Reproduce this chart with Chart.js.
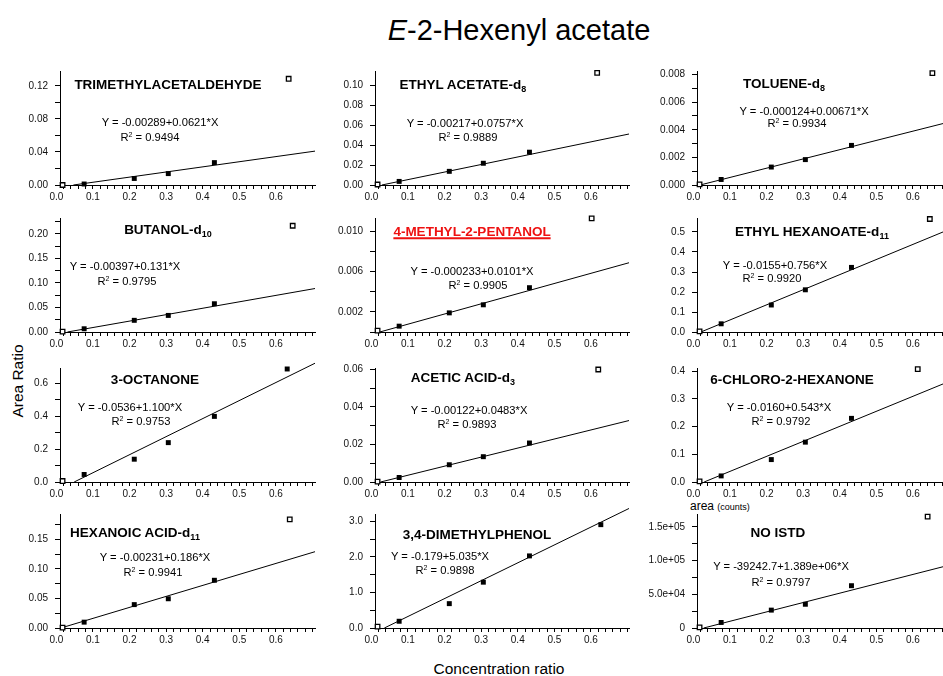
<!DOCTYPE html>
<html>
<head>
<meta charset="utf-8">
<title>E-2-Hexenyl acetate calibration</title>
<script src="https://cdn.jsdelivr.net/npm/chart.js@4.4.1/dist/chart.umd.min.js"></script>
<style>
  body { margin: 0; width: 943px; height: 676px; overflow: hidden; background: #fff; position: relative;
         font-family: 'Liberation Sans', Arial, sans-serif; color: #000; }
  canvas { position: absolute; }
  .lbl { position: absolute; transform: translate(-50%, -50%); white-space: nowrap; line-height: 1; }
  .name { font-weight: bold; font-size: 13.5px; }
  .name sub { font-size: 9px; vertical-align: -3px; }
  .name.ref { color: #ee1111; text-decoration: underline; text-decoration-thickness: 1.5px; }
  .eq { font-size: 11.2px; }
  .eq sup { font-size: 7px; vertical-align: 4px; }
  #title { font-size: 29px; left: 519px; top: 30px; }
  #ylab { font-size: 15.5px; left: 18px; top: 381px; transform: translate(-50%, -50%) rotate(-90deg); }
  #xlab { font-size: 15.5px; left: 499px; top: 669px; }
  #area { position: absolute; left: 690px; top: 499px; font-size: 12px; line-height: 14px; }
  #area small { font-size: 9px; }
</style>
</head>
<body>
<div class="lbl" id="title"><i>E</i>-2-Hexenyl acetate</div>
<div class="lbl" id="ylab">Area Ratio</div>
<div class="lbl" id="xlab">Concentration ratio</div>
<div id="area">area <small>(counts)</small></div>

<script>
/* ----- data ----- */
const compounds = ['TRIMETHYLACETALDEHYDE', 'ETHYL ACETATE-d', 'TOLUENE-d', 'BUTANOL-d',
  '4-METHYL-2-PENTANOL', 'ETHYL HEXANOATE-d', '3-OCTANONE', 'ACETIC ACID-d',
  '6-CHLORO-2-HEXANONE', 'HEXANOIC ACID-d', '3,4-DIMETHYLPHENOL', 'NO ISTD'];
const deuterium = ['', '8', '8', '10', '', '11', '', '3', '', '11', '', ''];

// standard levels shared by every compound, plus the top level as plotted per panel
const concLevels = [0.017, 0.076, 0.213, 0.306, 0.432];
const topLevel = [0.635, 0.617, 0.653, 0.646, 0.602, 0.646, 0.631, 0.620, 0.613, 0.638, 0.627, 0.640];

// area ratios, one row per compound (NO ISTD is in tens of counts)
const areaRatio = [
  [0.0000, 0.0012, 0.0079, 0.0138, 0.0271, 0.1286],
  [0.0005, 0.0036, 0.0137, 0.0218, 0.0329, 0.1124],
  [0.00005, 0.0004, 0.0013, 0.00184, 0.00287, 0.0081],
  [0.0007, 0.0066, 0.0238, 0.0338, 0.0576, 0.2166],
  [0.00013, 0.00058, 0.0019, 0.0027, 0.0044, 0.01129],
  [0.003, 0.041, 0.135, 0.211, 0.323, 0.565],
  [0.006, 0.046, 0.139, 0.240, 0.400, 0.689],
  [0.0002, 0.0024, 0.0092, 0.0135, 0.0208, 0.0600],
  [0.002, 0.022, 0.081, 0.144, 0.230, 0.408],
  [0.0005, 0.0099, 0.0396, 0.0495, 0.0808, 0.184],
  [0.037, 0.19, 0.686, 1.29, 2.03, 2.91],
  [1000, 8200, 26500, 35200, 62700, 165000]
];
// top level kept in the fit for these two only
const topIncluded = [false, false, false, false, false, false, true, false, false, false, true, false];

const intercepts = ['-0.00289', '-0.00217', '-0.000124', '-0.00397', '-0.000233', '-0.0155',
  '-0.0536', '-0.00122', '-0.0160', '-0.00231', '-0.179', '-39242.7'];
const slopes = ['0.0621', '0.0757', '0.00671', '0.131', '0.0101', '0.756',
  '1.100', '0.0483', '0.543', '0.186', '5.035', '1.389e+06'];
const rSquared = ['0.9494', '0.9889', '0.9934', '0.9795', '0.9905', '0.9920',
  '0.9753', '0.9893', '0.9792', '0.9941', '0.9898', '0.9797'];
// NO ISTD area axis is plotted in tens of counts
const fitUnit = [1, 1, 1, 1, 1, 1, 1, 1, 1, 1, 1, 10];

// y axes: top of range, tick step, labelled ticks, decimals
const yMax = [0.138, 0.1143, 0.00826, 0.2324, 0.01132, 0.570, 0.695, 0.0608, 0.412, 0.193, 3.21, 169000];
const yStep = [0.02, 0.02, 0.001, 0.025, 0.002, 0.1, 0.1, 0.01, 0.1, 0.025, 0.5, 25000];
const yLabelled = [
  [0, 0.04, 0.08, 0.12],
  [0, 0.02, 0.04, 0.06, 0.08, 0.10],
  [0, 0.002, 0.004, 0.006, 0.008],
  [0, 0.05, 0.10, 0.15, 0.20],
  [0.002, 0.006, 0.010],
  [0, 0.1, 0.2, 0.3, 0.4, 0.5],
  [0, 0.2, 0.4, 0.6],
  [0, 0.02, 0.04, 0.06],
  [0, 0.1, 0.2, 0.3, 0.4],
  [0, 0.05, 0.10, 0.15],
  [0, 1, 2, 3],
  [0, 50000, 100000, 150000]
];
const yDecimals = [2, 2, 3, 2, 3, 1, 1, 2, 1, 2, 1, 'e'];
const xLabelled = [0, 0.1, 0.2, 0.3, 0.4, 0.5, 0.6];

/* ----- layout ----- */
const rowTop = [68, 215, 365, 511];
const plotH = 117;
const colAxis = [60, 375, 697];
const plotW = [255, 254, 246];
const xMin = 0.01;
const xMax = [0.707, 0.704, 0.682];

const titlePos = [[168, 85], [463, 86], [784, 85], [168, 231], [472, 232], [812, 233],
  [155, 380], [463, 379], [792, 380], [135, 534], [477, 535], [778, 533]];
const eqPos = [[160, 123], [465, 124], [804, 112], [125, 267], [472, 272], [775, 266],
  [130, 408], [469, 411], [779, 408], [155, 558], [440, 557], [781, 567]];
const r2Pos = [[150, 137], [468, 137], [797, 123], [127, 281], [478, 285], [772, 278],
  [141, 421], [467, 424], [781, 421], [153, 572], [445, 570], [781, 582]];

const tickFont = { family: 'Liberation Sans', size: 10 };
const padL = 52, padT = 10, padR = 8, padB = 24;

function fmtY(v, d) {
  if (d !== 'e') return v.toFixed(d);
  if (v === 0) return '0';
  const [mant, ex] = v.toExponential(1).split('e');
  const n = Number(ex);
  return mant + 'e' + (n < 0 ? '-' : '+') + String(Math.abs(n)).padStart(2, '0');
}

function addLabel(cls, pos, html) {
  const d = document.createElement('div');
  d.className = 'lbl ' + cls;
  d.style.left = pos[0] + 'px';
  d.style.top = pos[1] + 'px';
  d.innerHTML = html;
  document.body.appendChild(d);
}

function makePanel(i) {
  const col = i % 3, row = Math.floor(i / 3);
  const w = padL + plotW[col] + padR, h = padT + plotH + padB;

  const canvas = document.createElement('canvas');
  canvas.width = w; canvas.height = h;
  canvas.style.width = w + 'px'; canvas.style.height = h + 'px';
  canvas.style.left = (colAxis[col] - padL) + 'px';
  canvas.style.top = (rowTop[row] - padT) + 'px';
  document.body.appendChild(canvas);

  const xs = concLevels.concat([topLevel[i]]);
  const filled = [], open = [];
  xs.forEach((x, k) => {
    const pt = { x: x, y: areaRatio[i][k] };
    const excluded = k === 0 || (k === xs.length - 1 && !topIncluded[i]);
    (excluded ? open : filled).push(pt);
  });

  // regression line from the printed equation, starting where it crosses zero
  const b = Number(intercepts[i]) / fitUnit[i];
  const m = Number(slopes[i]) / fitUnit[i];
  const xEnd = xMax[col];
  const fit = [{ x: -b / m, y: 0 }, { x: xEnd, y: b + m * xEnd }];

  new Chart(canvas, {
    type: 'scatter',
    data: {
      datasets: [
        { data: fit, showLine: true, borderColor: '#000', borderWidth: 1, pointRadius: 0, clip: false, order: 3 },
        { data: filled, pointStyle: 'rect', pointRadius: 3.5, backgroundColor: '#000', borderWidth: 0, clip: false, order: 2 },
        { data: open, pointStyle: 'rect', pointRadius: 3.2, backgroundColor: '#fff', borderColor: '#000', borderWidth: 1.3, clip: false, order: 1 }
      ]
    },
    options: {
      responsive: false,
      animation: false,
      events: [],
      layout: { padding: { top: padT, right: padR, left: 0, bottom: 0 } },
      plugins: { legend: { display: false }, tooltip: { enabled: false } },
      scales: {
        x: {
          type: 'linear',
          min: xMin,
          max: xEnd,
          // minor ticks every 0.02, the 0.0 label sits just left of the axis
          afterBuildTicks: s => {
            const t = [];
            for (let k = 0; k * 0.02 <= xEnd + 1e-9; k++) t.push({ value: Math.round(k * 2) / 100 });
            s.ticks = t;
          },
          afterFit: s => { s.height = padB; },
          grid: {
            drawOnChartArea: false, drawTicks: true, tickLength: 4,
            tickColor: c => (c.tick && c.tick.value < xMin) ? 'rgba(0,0,0,0)' : '#000'
          },
          border: { display: true, color: '#000', width: 1 },
          ticks: {
            autoSkip: false, maxRotation: 0, padding: 2, color: '#111', font: tickFont,
            callback: v => xLabelled.some(t => Math.abs(t - v) < 1e-6) ? v.toFixed(1) : ''
          }
        },
        y: {
          type: 'linear',
          min: 0,
          max: yMax[i],
          afterBuildTicks: s => {
            const t = [];
            const n = Math.floor(yMax[i] / yStep[i] + 1e-6);
            for (let k = 0; k <= n; k++) t.push({ value: Number((k * yStep[i]).toPrecision(10)) });
            s.ticks = t;
          },
          afterFit: s => { s.width = padL; },
          grid: { drawOnChartArea: false, drawTicks: true, tickLength: 5, tickColor: '#000' },
          border: { display: true, color: '#000', width: 1 },
          ticks: {
            autoSkip: false, padding: 7, color: '#111', font: tickFont,
            callback: v => yLabelled[i].some(t => Math.abs(t - v) < yStep[i] * 1e-3) ? fmtY(v, yDecimals[i]) : ''
          }
        }
      }
    }
  });

  const sub = deuterium[i] ? '<sub>' + deuterium[i] + '</sub>' : '';
  addLabel(i === 4 ? 'name ref' : 'name', titlePos[i], compounds[i] + sub);
  addLabel('eq', eqPos[i], 'Y = ' + intercepts[i] + '+' + slopes[i] + '*X');
  addLabel('eq', r2Pos[i], 'R<sup>2</sup> = ' + rSquared[i]);
}

for (let i = 0; i < compounds.length; i++) makePanel(i);
</script>
</body>
</html>
